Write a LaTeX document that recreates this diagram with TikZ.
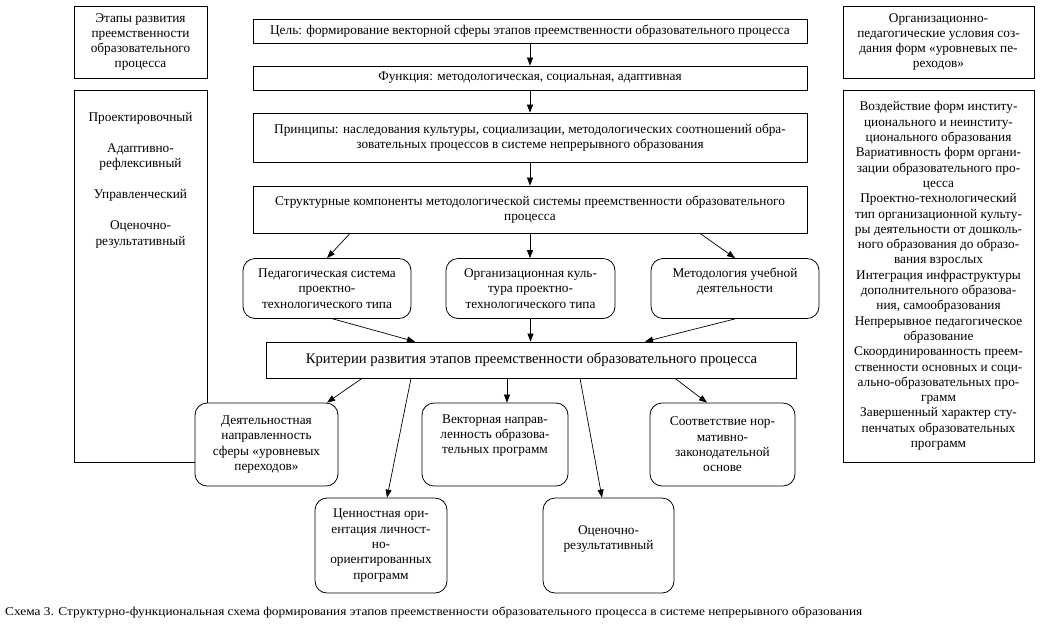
\documentclass[tikz,border=0pt]{standalone}
\usepackage{fontspec}
\setmainfont{Liberation Serif}
\usetikzlibrary{arrows.meta}
\begin{document}
\begin{tikzpicture}[x=1pt,y=-1pt,
  box/.style={draw, line width=0.8pt, inner sep=0pt, fill=white, align=center,
    font=\fontsize{13.3}{15.3}\selectfont},
  big/.style={font=\fontsize{14.7}{17}\selectfont},
  rbox/.style={box, rounded corners=12pt},
  txt/.style={align=center, inner sep=0pt, font=\fontsize{13.3}{15.3}\selectfont},
  arr/.style={-{Triangle[length=8pt,width=6pt]}, line width=0.7pt}]
\fill[white] (0,0) rectangle (1043,625);
\useasboundingbox (0,0) rectangle (1043,625);
% left column
\node[box, minimum width=133pt, minimum height=72pt] (lt) at (140.5,42)
  {Этапы развития\\преемственности\\образовательного\\процесса};
\node[box, minimum width=133pt, minimum height=372pt] (lb) at (140.5,276) {};
\node[txt] (l1) at (140.5,118) {Проектировочный};
\node[txt] (l2) at (140.5,157) {Адаптивно-\\рефлексивный};
\node[txt] (l3) at (140.5,195) {Управленческий};
\node[txt] (l4) at (140.5,234.5) {Оценочно-\\результативный};
% right column
\node[box, minimum width=191pt, minimum height=72pt] (rt) at (938.5,42)
  {Организационно-\\педагогические условия соз-\\дания форм «уровневых пе-\\реходов»};
\node[box, minimum width=191pt, minimum height=372pt] (rb) at (938.5,276)
  {Воздействие форм институ-\\ционального и неинститу-\\ционального образования\\
   Вариативность форм органи-\\зации образовательного про-\\цесса\\
   Проектно-технологический\\тип организационной культу-\\ры деятельности от дошколь-\\ного образования до образо-\\вания взрослых\\
   Интеграция инфраструктуры\\дополнительного образова-\\ния, самообразования\\
   Непрерывное педагогическое\\образование\\
   Скоординированность преем-\\ственности основных и соци-\\ально-образовательных про-\\грамм\\
   Завершенный характер сту-\\пенчатых образовательных\\программ};
% top chain
\node[box, minimum width=554pt, minimum height=24pt] (c1) at (530,31)
  {Цель: формирование векторной сферы этапов преемственности образовательного процесса};
\node[box, minimum width=554pt, minimum height=24pt] (c2) at (530,78)
  {Функция: методологическая, социальная, адаптивная};
\node[box, minimum width=554pt, minimum height=49pt] (c3) at (530,137.5)
  {Принципы: наследования культуры, социализации, методологических соотношений обра-\\зовательных процессов в системе непрерывного образования};
\node[box, minimum width=554pt, minimum height=47pt] (c4) at (530,209.5)
  {Структурные компоненты методологической системы преемственности образовательного\\процесса};
% middle row
\node[rbox, minimum width=168pt, minimum height=60pt] (ped) at (327,288.5)
  {Педагогическая система\\проектно-\\технологического типа};
\node[rbox, minimum width=169pt, minimum height=60pt] (org) at (530.5,288.5)
  {Организационная куль-\\тура проектно-\\технологического типа};
\node[rbox, minimum width=168pt, minimum height=60pt,
  label={[txt,yshift=7pt]center:Методология учебной\\деятельности}] (met) at (735,288.5) {};
% criteria
\node[box, big, minimum width=530pt, minimum height=36pt] (krit) at (531.5,360)
  {Критерии развития этапов преемственности образовательного процесса};
% bottom
\node[rbox, minimum width=143pt, minimum height=83pt] (dey) at (266.5,444.5)
  {Деятельностная\\направленность\\сферы «уровневых\\переходов»};
\node[rbox, minimum width=146pt, minimum height=83pt,
  label={[txt,yshift=9pt]center:Векторная направ-\\ленность образова-\\тельных программ}] (vek) at (495,444.5) {};
\node[rbox, minimum width=145pt, minimum height=83pt] (soo) at (722.5,444.5)
  {Соответствие нор-\\мативно-\\законодательной\\основе};
\node[rbox, minimum width=132pt, minimum height=95pt] (cen) at (381,545.5)
  {Ценностная ори-\\ентация личност-\\но-\\ориентированных\\программ};
\node[rbox, minimum width=131pt, minimum height=95pt,
  label={[txt,yshift=6.5pt]center:Оценочно-\\результативный}] (ots) at (608.5,545.5) {};
% caption
\node[anchor=west, inner sep=0pt] (cap) at (5,612)
  {\resizebox{857pt}{\height}{\fontsize{12}{14}\selectfont Схема 3. Структурно-функциональная схема формирования этапов преемственности образовательного процесса в системе непрерывного образования}};
% arrows
\draw[arr] (c1.south) -- (c2.north);
\draw[arr] (c2.south) -- (c3.north);
\draw[arr] (c3.south) -- (c4.north);
\draw[arr] ([xshift=-180pt]c4.south) -- (ped.north);
\draw[arr] (c4.south) -- (c4.south |- org.north);
\draw[arr] ([xshift=170pt]c4.south) -- (met.north);
\draw[arr] ([xshift=6pt]ped.south) -- ([xshift=-116.5pt]krit.north);
\draw[arr] (org.south) -- (org.south |- krit.north);
\draw[arr] (met.south) -- ([xshift=113.5pt]krit.north);
\draw[arr] ([xshift=-169.5pt]krit.south) -- ([xshift=60.5pt]dey.north);
\draw[arr] ([xshift=-120.5pt]krit.south) -- ([xshift=6pt]cen.north);
\draw[arr] ([xshift=-24.5pt]krit.south) -- ([xshift=12pt]vek.north);
\draw[arr] ([xshift=48.5pt]krit.south) -- ([xshift=-6.5pt]ots.north);
\draw[arr] ([xshift=143.5pt]krit.south) -- ([xshift=-15.5pt]soo.north);
\end{tikzpicture}
\end{document}
